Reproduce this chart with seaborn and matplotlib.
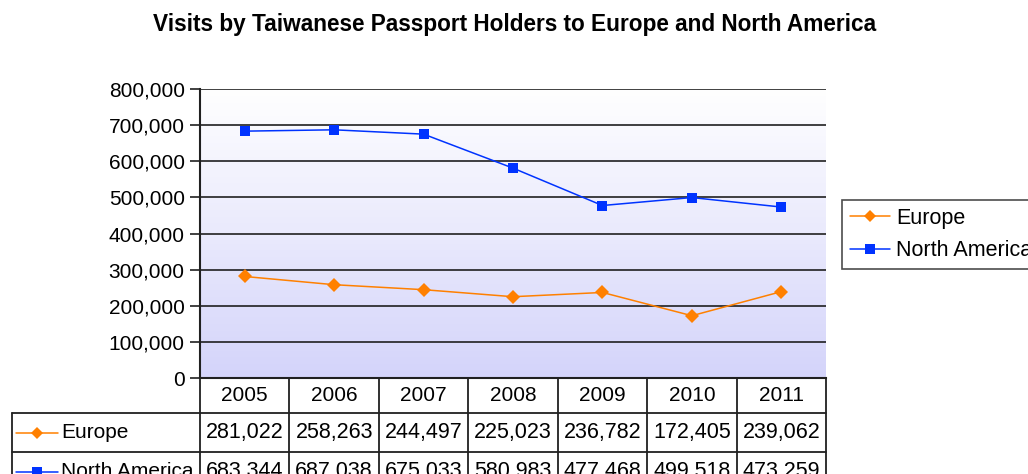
import numpy as np
import pandas as pd
import matplotlib
matplotlib.use("Agg")
import matplotlib.pyplot as plt
from matplotlib.colors import LinearSegmentedColormap
from matplotlib.lines import Line2D
import seaborn as sns

years = ["2005", "2006", "2007", "2008", "2009", "2010", "2011"]
europe = [281022, 258263, 244497, 225023, 236782, 172405, 239062]
north_america = [683344, 687038, 675033, 580983, 477468, 499518, 473259]
series_names = ["Europe", "North America"]
series_colors = ["#FF8000", "#0033FF"]
series_markers = ["D", "s"]
y_ticks = [0, 100000, 200000, 300000, 400000, 500000, 600000, 700000, 800000]

sns.set_theme(style="white")
plt.rcParams["font.family"] = ["Liberation Sans", "DejaVu Sans"]
plt.rcParams["text.color"] = "black"
plt.rcParams["ytick.labelcolor"] = "black"

df = pd.DataFrame({
    "year": years * 2,
    "pos": list(range(len(years))) * 2,
    "visits": europe + north_america,
    "region": [series_names[0]] * len(years) + [series_names[1]] * len(years),
})

fig = plt.figure(figsize=(10.28, 4.74), dpi=100)
ax = fig.add_axes([200 / 1028, 1 - 378 / 474, 626 / 1028, 289 / 474])

# gradient plot background: white at top, soft lavender at bottom
grad = LinearSegmentedColormap.from_list("bg", ["#D4D4FA", "#FFFFFF"])
ax.imshow(np.linspace(0, 1, 256).reshape(-1, 1), cmap=grad, aspect="auto",
          extent=(-0.5, 6.5, 0, 800000), origin="lower", zorder=0)

for v in y_ticks[1:]:
    ax.axhline(v, color="#202020", lw=1.2, zorder=1)

sns.lineplot(data=df, x="pos", y="visits", hue="region", style="region",
             palette=dict(zip(series_names, series_colors)),
             markers=dict(zip(series_names, series_markers)), dashes=False,
             markersize=7, markeredgewidth=0, linewidth=1.1, ax=ax,
             legend=False, zorder=3)

ax.set_xlim(-0.5, 6.5)
ax.set_ylim(0, 800000)
ax.set_yticks(y_ticks)
ax.set_yticklabels([f"{v:,}" for v in y_ticks], fontsize=15)
ax.set_xticks([])
ax.set_xlabel("")
ax.set_ylabel("")
ax.tick_params(axis="y", length=7, width=1.2, color="#202020", pad=4, left=True)
for side in ["top", "right"]:
    ax.spines[side].set_visible(False)
ax.spines["left"].set_color("#202020")
ax.spines["left"].set_linewidth(1.5)
ax.spines["bottom"].set_color("#202020")
ax.spines["bottom"].set_linewidth(1.5)

fig.suptitle("Visits by Taiwanese Passport Holders to Europe and North America",
             x=515 / 1028, y=1 - 25 / 474, va="center", fontsize=16.3,
             fontweight="bold", color="black")

# data table beneath the axis
trans = ax.get_xaxis_transform()

def fy(pix):
    # pixel row of the figure -> axes-fraction y
    return (378 - pix) / 289

row_edges = [378, 413, 452, 491]
col_edges = np.arange(-0.5, 7.0, 1.0)
lc = "#202020"
# vertical cell borders
for x in col_edges:
    ax.plot([x, x], [fy(row_edges[0]), fy(row_edges[-1])], transform=trans,
            color=lc, lw=1.3, clip_on=False, zorder=5)
# horizontal borders of the series rows, extended under the label column
label_left = (12 - 200) / (626 / 7) - 0.5
for r in row_edges[1:]:
    ax.plot([label_left, 6.5], [fy(r), fy(r)], transform=trans, color=lc,
            lw=1.3, clip_on=False, zorder=5)
ax.plot([label_left, label_left], [fy(row_edges[1]), fy(row_edges[-1])],
        transform=trans, color=lc, lw=1.3, clip_on=False, zorder=5)

for i, y in enumerate(years):
    ax.text(i, fy((row_edges[0] + row_edges[1]) / 2), y, transform=trans,
            ha="center", va="center", fontsize=15, clip_on=False)

for k, (vals, name, col, mk) in enumerate(zip([europe, north_america], series_names,
                                              series_colors, series_markers)):
    yc = fy((row_edges[k + 1] + row_edges[k + 2]) / 2)
    for i, v in enumerate(vals):
        ax.text(i, yc, f"{v:,}", transform=trans, ha="center", va="center",
                fontsize=15.5, clip_on=False)
    x0 = label_left + 0.05
    ax.add_line(Line2D([x0, x0 + 0.46], [yc, yc], transform=trans, color=col,
                       lw=1.1, clip_on=False, zorder=5))
    ax.add_line(Line2D([x0 + 0.23], [yc], transform=trans, color=col, marker=mk,
                       markersize=7 if mk == "s" else 6, markeredgewidth=0,
                       clip_on=False, zorder=5))
    ax.text(x0 + 0.5, yc, name, transform=trans, ha="left", va="center",
            fontsize=15, clip_on=False)

handles = [Line2D([], [], color=c, marker=m, lw=1.1, markersize=7 if m == "s" else 6,
                  markeredgewidth=0) for c, m in zip(series_colors, series_markers)]
leg = fig.legend(handles, series_names, loc="upper left",
                 bbox_to_anchor=(842 / 1028, 1 - 200 / 474), fontsize=15.5,
                 frameon=True, fancybox=False, edgecolor="#202020",
                 handlelength=1.9, handletextpad=0.25, borderpad=0.35,
                 labelspacing=0.55, borderaxespad=0)
leg.get_frame().set_linewidth(1.2)

fig.savefig("out.png", dpi=100, facecolor="white")
